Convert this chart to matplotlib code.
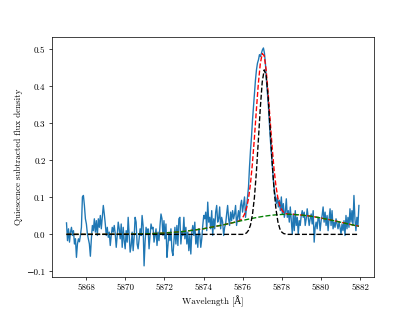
import numpy as np
import matplotlib
matplotlib.use("Agg")
import matplotlib.pyplot as plt

plt.rcParams['font.family'] = ['cmr10', 'DejaVu Serif']
plt.rcParams['axes.unicode_minus'] = True
plt.rcParams['axes.formatter.use_mathtext'] = False

wave_start = 5867.0
wave_end = 5881.94
flux = [
    0.031, -0.017, 0.015, -0.021, 0.006, 0.019, -0.003, 0.010, -0.026, -0.012,
    -0.062, -0.026, -0.012, -0.020, -0.003, 0.019, 0.101, 0.105, 0.078, 0.042,
    0.028, 0.001, -0.012, -0.026, -0.059, -0.012, 0.024, 0.010, 0.042, 0.006,
    0.037, -0.003, 0.042, 0.019, 0.051, 0.015, 0.046, 0.078, 0.055, 0.028,
    -0.003, 0.019, -0.008, 0.006, -0.030, -0.003, 0.019, 0.006, 0.024, 0.001,
    -0.035, -0.003, 0.033, 0.015, -0.012, 0.028, -0.035,
    0.019, -0.017, -0.039, 0.010, -0.021, 0.046, -0.003, -0.048, -0.030, 0.006,
    -0.044, -0.008, 0.046, 0.033, -0.026, -0.039, -0.012, 0.015, -0.003, 0.051,
    0.024, -0.085, -0.021, 0.019, 0.001, 0.015, -0.039, -0.003, 0.028, 0.015,
    0.019, -0.021, -0.003, 0.015, -0.030, 0.006, -0.017, 0.024, 0.055, 0.042,
    -0.003, 0.037, -0.012, 0.028, -0.062, -0.030, 0.006, -0.017, 0.015, -0.044,
    -0.057, -0.017, 0.019, -0.026, 0.024, -0.030, 0.042, 0.046, -0.026, 0.006,
    -0.003,
    0.046, -0.012, 0.019, -0.026, 0.006, -0.044, -0.003, -0.053, 0.006, 0.024,
    -0.003, 0.033, -0.026, -0.003, -0.035, 0.015, 0.001, -0.035, -0.012, 0.024,
    0.051, 0.042, 0.060, 0.010, 0.087, 0.033, 0.046, 0.015, 0.064, -0.003,
    0.042, 0.015, 0.060, 0.078, 0.033, 0.042, 0.074, 0.015, 0.046, 0.033,
    -0.003, 0.019, 0.028, 0.055, 0.078, 0.042, 0.024, 0.060, 0.037, 0.064,
    0.042, 0.055, 0.078, 0.024, 0.046, 0.064, 0.037, 0.078, 0.092, 0.060,
    0.080,
    0.101, 0.046, 0.074, 0.101, 0.128, 0.182, 0.227, 0.263, 0.308, 0.345,
    0.381, 0.417, 0.444, 0.462, 0.471, 0.485, 0.480, 0.489, 0.498, 0.503,
    0.489, 0.462, 0.417, 0.381, 0.345, 0.299, 0.254, 0.218, 0.182, 0.146,
    0.119, 0.101, 0.083, 0.101, 0.074, 0.092, 0.064, 0.101, 0.055, 0.083,
    0.046, 0.060, 0.096, 0.046, 0.064, 0.033, 0.074, 0.037, 0.001, 0.055,
    0.010, 0.064, 0.024, 0.046, 0.001, 0.037,
    0.024, 0.051, 0.064, 0.046, 0.060, 0.024, 0.042, 0.069, 0.046, 0.024,
    0.042, 0.055, 0.028, 0.064, -0.021, 0.019, 0.033, 0.015, 0.046, 0.042,
    0.010, 0.037, 0.051, 0.074, 0.033, 0.060, 0.024, 0.051, 0.010, 0.042,
    0.069, 0.024, 0.064, 0.015, 0.033, 0.019, 0.042, 0.028, 0.015, 0.033,
    0.019, 0.001, 0.028, 0.010, 0.037, -0.003, 0.051, 0.015, 0.046, 0.019,
    0.069, 0.033, 0.064, 0.024, 0.105, 0.042, 0.010, 0.046, 0.024, 0.078,
]

# fitted model curves
model_wave = [
    5867.0, 5868.0, 5869.0, 5870.0, 5871.0, 5872.0, 5873.0, 5874.0, 5875.0, 5875.5,
    5875.8, 5875.9,
    5876.0, 5876.1, 5876.2, 5876.3, 5876.4, 5876.5, 5876.6, 5876.7, 5876.8, 5876.9,
    5877.0, 5877.1, 5877.2, 5877.3, 5877.4, 5877.5, 5877.6, 5877.7, 5877.8, 5877.9,
    5878.0, 5878.1, 5878.2, 5878.3, 5878.4, 5878.5, 5878.6,
    5879.0, 5879.5, 5880.0, 5880.5, 5881.0, 5881.5, 5881.94,
]
total_fit = [
    0.0, 0.0, 0.0001, 0.0005, 0.0014, 0.0035, 0.0079, 0.0152, 0.0256, 0.0315,
    0.036, 0.039,
    0.045, 0.055, 0.071, 0.097, 0.137, 0.192, 0.260, 0.335, 0.406, 0.460,
    0.488, 0.482, 0.444, 0.383, 0.311, 0.240, 0.178, 0.131, 0.098, 0.077,
    0.066, 0.059, 0.056, 0.055, 0.054, 0.054, 0.054,
    0.052, 0.049, 0.044, 0.039, 0.033, 0.027, 0.022,
]
broad_fit = [
    0.0, 0.0, 0.0001, 0.0005, 0.0014, 0.0035, 0.0079, 0.0152, 0.0256, 0.0315,
    0.0352, 0.0364,
    0.0376, 0.0387, 0.0399, 0.0411, 0.0422, 0.0432, 0.0443, 0.0453, 0.0463, 0.0472,
    0.0481, 0.0489, 0.0497, 0.0504, 0.0511, 0.0517, 0.0522, 0.0527, 0.0531, 0.0534,
    0.0537, 0.0539, 0.0540, 0.0540, 0.0540, 0.0538, 0.0537,
    0.0522, 0.0489, 0.0443, 0.0387, 0.0328, 0.0268, 0.0218,
]
single_fit = [
    0.0, 0.0, 0.0, 0.0, 0.0, 0.0, 0.0, 0.0, 0.0, 0.0,
    0.0, 0.0,
    0.0, 0.001, 0.004, 0.011, 0.025, 0.053, 0.099, 0.167, 0.252, 0.340,
    0.411, 0.444, 0.429, 0.372, 0.288, 0.200, 0.124, 0.069, 0.034, 0.015,
    0.006, 0.002, 0.001, 0.0, 0.0, 0.0, 0.0,
    0.0, 0.0, 0.0, 0.0, 0.0, 0.0, 0.0,
]

wave = np.linspace(wave_start, wave_end, len(flux))

fig, ax = plt.subplots(figsize=(6.4, 4.8), dpi=64.85)
ax.plot(wave, flux, color='tab:blue')
ax.plot(model_wave, total_fit, 'r--')
ax.plot(model_wave, broad_fit, 'g--')
ax.plot(model_wave, single_fit, 'k--')
ax.set_xlabel('Wavelength [Å]')
ax.set_ylabel('Quiescence subtracted flux density')

fig.savefig('out.png', dpi=64.85)
